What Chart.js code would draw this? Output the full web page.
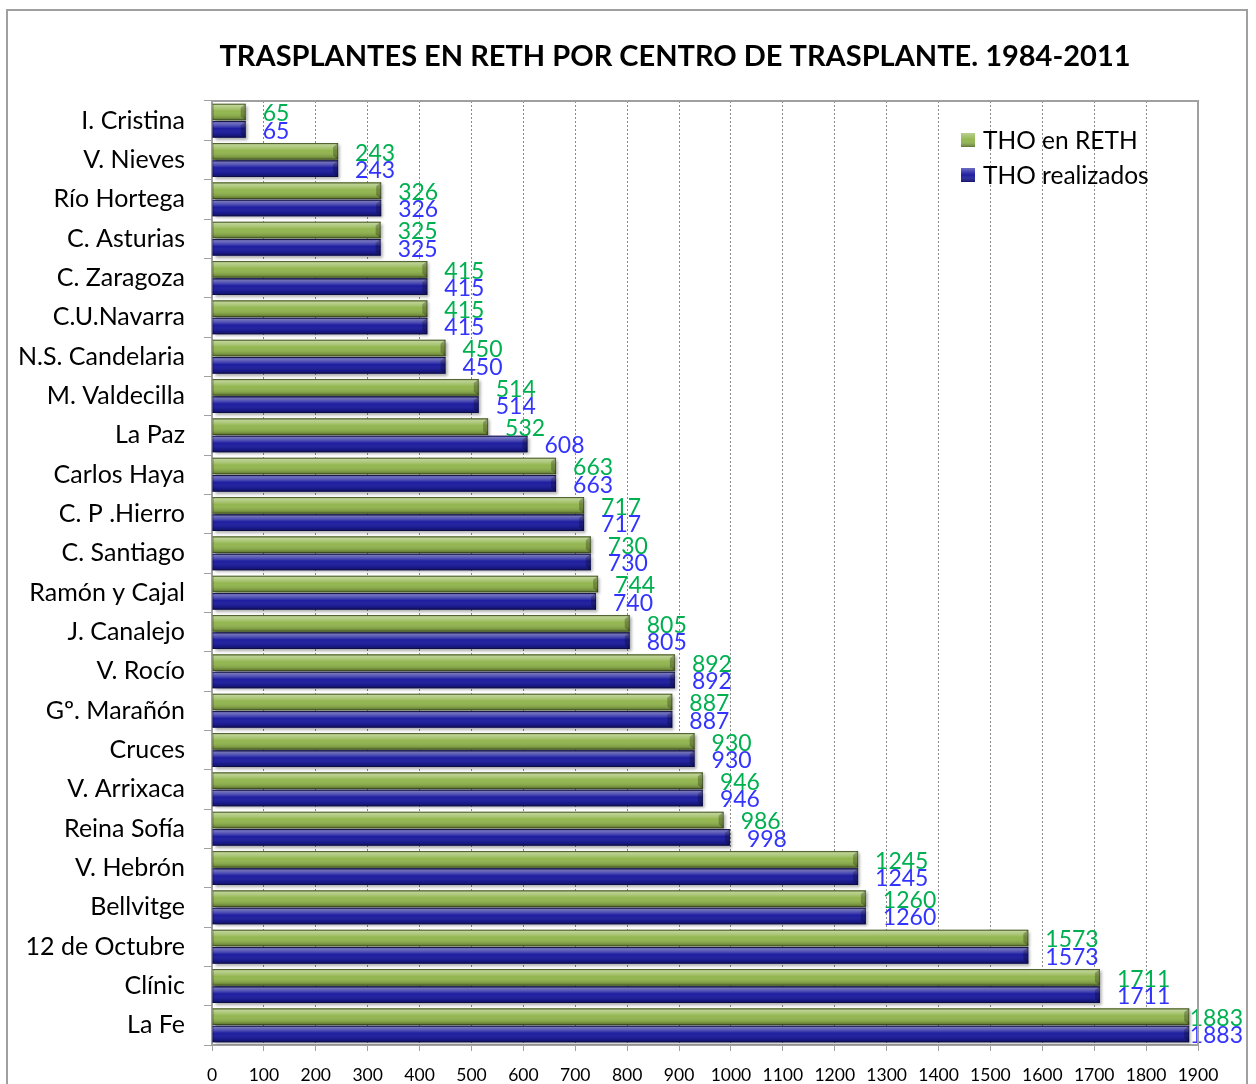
<!DOCTYPE html>
<html>
<head>
<meta charset="utf-8">
<script src="https://cdn.jsdelivr.net/npm/chart.js@4/dist/chart.umd.min.js"></script>
<style>
  html, body { margin: 0; padding: 0; background: #fff; }
  #wrap { position: relative; width: 1256px; height: 1084px; }
  #frame { position: absolute; left: 6px; top: 9px; width: 1242px; height: 1100px; border: 2px solid #a0a0a0; box-sizing: border-box; }
  canvas { position: absolute; left: 0; top: 0; }
</style>
</head>
<body>
<div id="wrap">
  <div id="frame"></div>
  <canvas id="chart" width="1256" height="1084"></canvas>
</div>
<script>
const centros = ["I. Cristina", "V. Nieves", "Río Hortega", "C. Asturias", "C. Zaragoza", "C.U.Navarra",
  "N.S. Candelaria", "M. Valdecilla", "La Paz", "Carlos Haya", "C. P .Hierro", "C. Santiago",
  "Ramón y Cajal", "J. Canalejo", "V. Rocío", "Gº. Marañón", "Cruces", "V. Arrixaca",
  "Reina Sofía", "V. Hebrón", "Bellvitge", "12 de Octubre", "Clínic", "La Fe"];
const thoReth = [65, 243, 326, 325, 415, 415, 450, 514, 532, 663, 717, 730, 744, 805, 892, 887, 930, 946, 986, 1245, 1260, 1573, 1711, 1883];
const thoRealizados = [65, 243, 326, 325, 415, 415, 450, 514, 608, 663, 717, 730, 740, 805, 892, 887, 930, 946, 998, 1245, 1260, 1573, 1711, 1883];
const xMax = 1900;
const titulo = "TRASPLANTES EN RETH POR CENTRO DE TRASPLANTE. 1984-2011";

const FONT = "Lato, 'Open Sans', sans-serif";

// relieve de las barras + etiquetas de valor
const barStyle = {
  id: "barStyle",
  beforeDatasetsDraw(chart) {
    const ctx = chart.ctx;
    ctx.save();
    ctx.shadowColor = "rgba(0,0,0,0.35)";
    ctx.shadowOffsetX = 2;
    ctx.shadowOffsetY = 2;
    ctx.shadowBlur = 3;
  },
  afterDatasetsDraw(chart) {
    const ctx = chart.ctx;
    ctx.restore();
    chart.data.datasets.forEach((ds, di) => {
      chart.getDatasetMeta(di).data.forEach((el) => {
        const x0 = Math.min(el.base, el.x), x1 = Math.max(el.base, el.x);
        const y0 = el.y - el.height / 2, y1 = el.y + el.height / 2;
        const g = ctx.createLinearGradient(0, y0, 0, y1);
        g.addColorStop(0, "rgba(0,0,0,0.25)");
        g.addColorStop(0.1, "rgba(255,255,255,0.4)");
        g.addColorStop(0.3, "rgba(255,255,255,0.2)");
        g.addColorStop(0.45, "rgba(255,255,255,0)");
        g.addColorStop(0.8, "rgba(0,0,0,0.12)");
        g.addColorStop(1, "rgba(0,0,0,0.4)");
        ctx.fillStyle = g;
        ctx.fillRect(x0, y0, x1 - x0, y1 - y0);
        // bisel del extremo
        ctx.fillStyle = "rgba(0,0,0,0.25)";
        ctx.beginPath();
        ctx.moveTo(x1, y0);
        ctx.lineTo(x1 - 5, y0 + 4);
        ctx.lineTo(x1 - 5, y1 - 4);
        ctx.lineTo(x1, y1);
        ctx.closePath();
        ctx.fill();
        ctx.strokeStyle = "rgba(0,0,0,0.35)";
        ctx.lineWidth = 1;
        ctx.strokeRect(x0 + 0.5, y0 + 0.5, x1 - x0 - 1, y1 - y0 - 1);
      });
    });
    ctx.font = "23px " + FONT;
    ctx.textBaseline = "middle";
    ctx.textAlign = "left";
    chart.data.datasets.forEach((ds, di) => {
      ctx.fillStyle = ds.labelColor;
      chart.getDatasetMeta(di).data.forEach((el, i) => {
        const txt = String(ds.data[i]);
        let x = el.x + 17;
        const w = ctx.measureText(txt).width;
        if (x + w > 1243) x = 1243 - w;
        ctx.fillText(txt, x, el.y + 2);
      });
    });
  },
  afterDraw(chart) {
    const ctx = chart.ctx;
    const a = chart.chartArea;
    ctx.save();
    ctx.strokeStyle = "#a0a0a0";
    ctx.lineWidth = 2;
    ctx.beginPath();
    ctx.moveTo(a.left, a.top);
    ctx.lineTo(a.right, a.top);
    ctx.lineTo(a.right, a.bottom);
    ctx.stroke();
    // título
    ctx.fillStyle = "#000";
    ctx.font = "bold 29px " + FONT;
    ctx.textAlign = "center";
    ctx.textBaseline = "middle";
    ctx.fillText(titulo, 675, 57);
    // leyenda
    const items = chart.data.datasets;
    items.forEach((ds, i) => {
      const bx = 961, by = 133 + i * 35;
      ctx.fillStyle = ds.backgroundColor;
      ctx.fillRect(bx, by, 14, 14);
      const g = ctx.createLinearGradient(0, by, 0, by + 14);
      g.addColorStop(0, "rgba(255,255,255,0.35)");
      g.addColorStop(0.5, "rgba(255,255,255,0)");
      g.addColorStop(1, "rgba(0,0,0,0.35)");
      ctx.fillStyle = g;
      ctx.fillRect(bx, by, 14, 14);
      ctx.fillStyle = "#000";
      ctx.font = "24.5px " + FONT;
      ctx.textBaseline = "middle";
      ctx.textAlign = "left";
      ctx.fillText(ds.label, 983, by + 8);
    });
    ctx.restore();
  }
};

new Chart(document.getElementById("chart"), {
  type: "bar",
  data: {
    labels: centros,
    datasets: [
      { label: "THO en RETH", data: thoReth, backgroundColor: "#93B650", labelColor: "#00B050" },
      { label: "THO realizados", data: thoRealizados, backgroundColor: "#1E1EA0", labelColor: "#3333FF" }
    ]
  },
  options: {
    indexAxis: "y",
    responsive: false,
    animation: false,
    layout: { padding: { left: 0, right: 58, top: 101, bottom: 0 } },
    categoryPercentage: 0.88,
    barPercentage: 0.96,
    plugins: {
      legend: { display: false },
      tooltip: { enabled: false },
      title: { display: false }
    },
    scales: {
      x: {
        min: 0,
        max: xMax,
        afterFit(scale) { scale.height = 39; },
        ticks: { stepSize: 100, autoSkip: false, maxRotation: 0, color: "#000", padding: 14,
          font: { family: FONT, size: 17.5 }, callback: (v) => String(v) },
        grid: { color: "#8a8a8a", tickLength: 6, tickColor: "#a0a0a0" },
        border: { color: "#a0a0a0", width: 2, dash: [2, 2] }
      },
      y: {
        afterFit(scale) { scale.width = 212; },
        ticks: { color: "#000", padding: 19, font: { family: FONT, size: 25 } },
        grid: { drawOnChartArea: false, tickLength: 8, color: "#a0a0a0", offset: true },
        border: { color: "#a0a0a0", width: 2 }
      }
    }
  },
  plugins: [barStyle]
});
</script>
</body>
</html>
